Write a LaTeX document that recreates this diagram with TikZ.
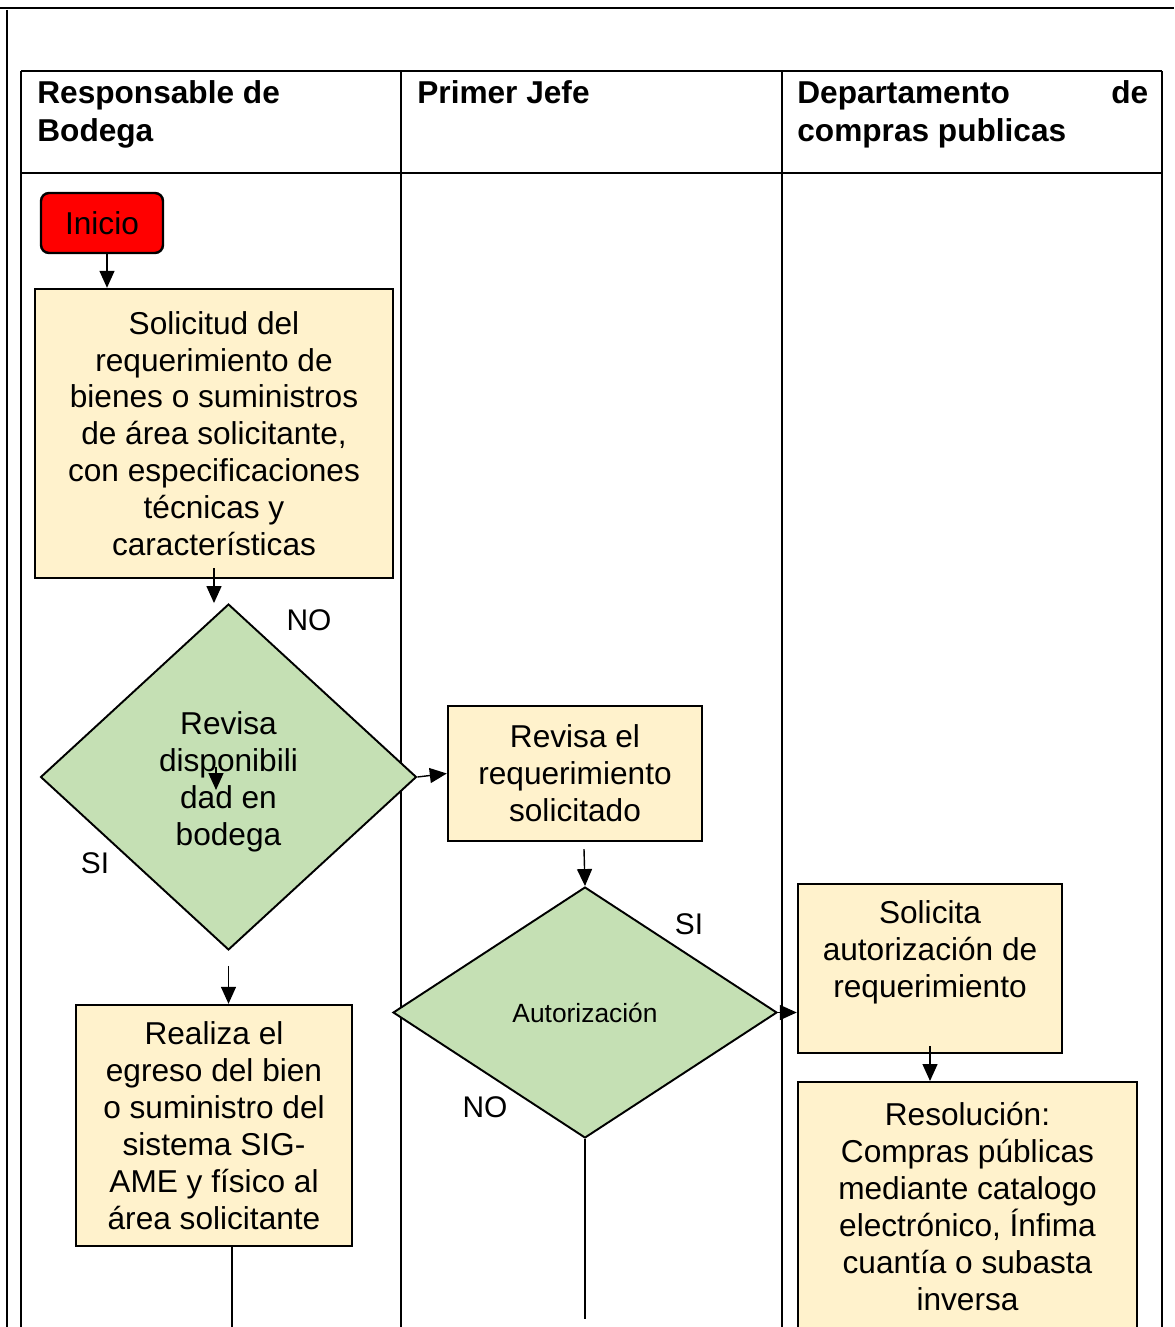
\documentclass[tikz,border=0pt]{standalone}
\usepackage{fontspec}
\setmainfont{Liberation Sans}
\usetikzlibrary{shapes.geometric,arrows.meta,positioning}
\definecolor{BoxCream}{RGB}{255, 242, 204}
\definecolor{DecisionGreen}{RGB}{197, 224, 180}
\definecolor{StartRed}{RGB}{255, 0, 0}

\begin{document}
\begin{tikzpicture}[x=0.02cm, y=-0.02cm,
    lane/.style={line width=0.8pt},
    procbox/.style={draw, line width=1.4pt, fill=BoxCream, align=center, inner sep=0pt, font=\fontsize{18}{21}\selectfont},
    decision/.style={diamond, draw, line width=1.1pt, fill=DecisionGreen, align=center, inner sep=0pt, font=\fontsize{18}{21}\selectfont},
    startbox/.style={draw, line width=1.4pt, fill=StartRed, rounded corners=0.16cm, inner sep=0pt, font=\fontsize{18}{21}\selectfont},
    lanehead/.style={anchor=north west, inner sep=0pt, align=left, font=\fontsize{18}{22}\selectfont\bfseries},
    answer/.style={inner sep=0pt, font=\fontsize{17}{20}\selectfont},
    arr/.style={-{Triangle[length=0.34cm, width=0.3cm]}, line width=0.8pt},
    flow/.style={line width=0.9pt}]

  \useasboundingbox (0,0) rectangle (1174,1327);
  \clip (0,0) rectangle (1174,1327);

  % frame and swimlanes
  \draw[lane] (0,8) -- (1174,8);
  \draw[lane] (7,10) -- (7,1327);
  \foreach \x in {21,401,782,1162}
    \draw[lane] (\x,71) -- (\x,1327);
  \foreach \y in {71,173}
    \draw[lane] (21,\y) -- (1162,\y);

  \node[lanehead] (hbodega) at (37,80) {Responsable de\\Bodega};
  \node[lanehead] (hjefe) at (417,80) {Primer Jefe};
  \node[lanehead] (hcompras) at (797,80) {\makebox[7.02cm][s]{Departamento\hfill de}\\compras publicas};

  % steps
  \node[startbox, minimum width=2.44cm, minimum height=1.2cm] (inicio) at (102,223) {Inicio};
  \node[procbox, minimum width=7.16cm, minimum height=5.78cm] (solic) at (214,433.5)
    {Solicitud del\\requerimiento de\\bienes o suministros\\de área solicitante,\\con especificaciones\\técnicas y\\características};
  \node[decision, minimum width=7.52cm, minimum height=6.92cm] (revdisp) at (228.5,777)
    {\\[-0.1cm]Revisa\\disponibili\\dad en\\bodega};
  \node[procbox, minimum width=5.08cm, minimum height=2.7cm] (revreq) at (575,773.5)
    {Revisa el\\requerimiento\\solicitado};
  \node[decision, minimum width=7.68cm, minimum height=5.02cm, font=\fontsize{15}{18}\selectfont] (autoriz) at (585,1012.5)
    {Autorización};
  \node[procbox, inner ysep=0.34cm] (solaut) at (930,968.5)
    {\parbox[c][2.7cm][t]{5.28cm}{\centering Solicita\\autorización de\\requerimiento}};
  \node[procbox, inner ysep=0.4cm, anchor=north] (resol) at (967.5,1081)
    {\parbox[c][6cm][t]{6.78cm}{\centering Resolución:\\Compras públicas\\mediante catalogo\\electrónico, Ínfima\\cuantía o subasta\\inversa}};
  \node[procbox, minimum width=5.52cm, minimum height=4.82cm] (egreso) at (214,1125.5)
    {Realiza el\\egreso del bien\\o suministro del\\sistema SIG-\\AME y físico al\\área solicitante};

  \node[answer] (no1) at (309,620) {NO};
  \node[answer] (si1) at (95,863) {SI};
  \node[answer] (si2) at (689,924) {SI};
  \node[answer] (no2) at (485,1107) {NO};

  % connectors
  \draw[arr] ([xshift=0.1cm]inicio.south) -- ([xshift=0.1cm]inicio.south |- solic.north);
  \draw[arr] ([yshift=0.22cm]solic.south) -- (solic.south |- revdisp.north);
  \draw[arr] ([xshift=-0.25cm,yshift=0.2cm]revdisp.center) -- ([xshift=-0.25cm,yshift=-0.26cm]revdisp.center);
  \draw[arr] (revdisp.east) -- (revreq.west);
  \draw[arr] ([yshift=-0.3cm]revdisp.south) -- (revdisp.south |- egreso.north);
  \draw[arr] ([xshift=0.18cm,yshift=-0.14cm]revreq.south) -- (autoriz.north);
  \draw[arr] (autoriz.east) -- (autoriz.east -| solaut.west);
  \draw[arr] ([yshift=0.16cm]solaut.south) -- (solaut.south |- resol.north);
  \draw[flow] ([xshift=0.36cm]egreso.south) -- ++(0,120);
  \draw[flow] (autoriz.south) -- ++(0,180);
\end{tikzpicture}
\end{document}
